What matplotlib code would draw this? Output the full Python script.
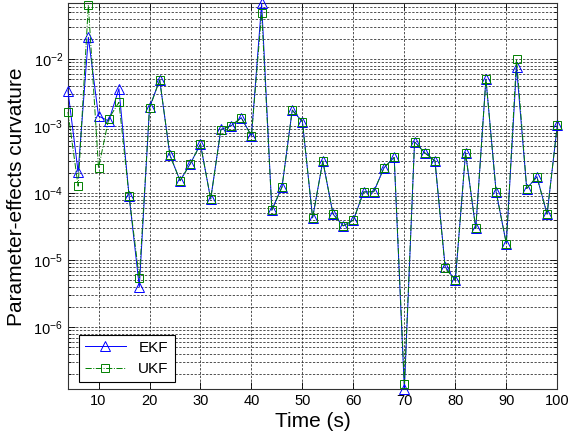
import matplotlib
matplotlib.use("Agg")
import matplotlib.pyplot as plt
from matplotlib.ticker import LogLocator, FixedLocator, NullFormatter

plt.rcParams['font.family'] = ['Liberation Sans', 'DejaVu Sans']
plt.rcParams['mathtext.default'] = 'regular'

# time stamps (s)
t = [4, 6, 8, 10, 12, 14, 16, 18, 20, 22, 24, 26, 28, 30, 32, 34, 36,
     38, 40, 42, 44, 46, 48, 50, 52, 54, 56, 58, 60, 62, 64, 66, 68, 70,
     72, 74, 76, 78, 80, 82, 84, 86, 88, 90, 92, 94, 96, 98, 100]

# parameter-effects curvature, EKF
ekf = [3.36e-3, 2.06e-4, 2.11e-2, 1.41e-3, 1.19e-3, 3.61e-3, 9.0e-5,
       3.99e-6, 1.90e-3, 4.86e-3, 3.69e-4, 1.53e-4, 2.74e-4, 5.38e-4,
       8.13e-5, 8.93e-4, 1.01e-3, 1.33e-3, 7.16e-4, 6.78e-2, 5.57e-5,
       1.24e-4, 1.73e-3, 1.16e-3, 4.27e-5, 3.01e-4, 4.87e-5, 3.25e-5,
       3.96e-5, 1.04e-4, 1.05e-4, 2.39e-4, 3.41e-4, 1.18e-7, 5.83e-4,
       3.99e-4, 3.03e-4, 8.0e-6, 5.02e-6, 3.99e-4, 2.97e-5, 5.03e-3,
       1.04e-4, 1.77e-5, 7.67e-3, 1.17e-4, 1.75e-4, 4.87e-5, 1.03e-3]

# parameter-effects curvature, UKF
ukf = [1.62e-3, 1.27e-4, 6.40e-2, 2.36e-4, 1.29e-3, 2.26e-3, 9.0e-5,
       5.33e-6, 1.84e-3, 4.90e-3, 3.69e-4, 1.53e-4, 2.74e-4, 5.38e-4,
       8.13e-5, 8.80e-4, 1.01e-3, 1.33e-3, 7.16e-4, 4.91e-2, 5.57e-5,
       1.24e-4, 1.73e-3, 1.16e-3, 4.27e-5, 3.01e-4, 4.87e-5, 3.25e-5,
       3.96e-5, 1.04e-4, 1.05e-4, 2.39e-4, 3.41e-4, 1.44e-7, 5.83e-4,
       3.99e-4, 3.03e-4, 7.6e-6, 5.02e-6, 3.99e-4, 2.97e-5, 5.03e-3,
       1.04e-4, 1.77e-5, 9.9e-3, 1.17e-4, 1.75e-4, 4.87e-5, 1.03e-3]

x_ticks = [10, 20, 30, 40, 50, 60, 70, 80, 90, 100]

fig = plt.figure(figsize=(5.71, 4.42), dpi=100)
ax = fig.add_axes([0.119, 0.119, 0.857, 0.8735])

ax.semilogy(t, ekf, color='#0000ff', lw=0.7, ls='-', marker='^', ms=6.5,
            mfc='none', mec='#0000ff', mew=0.7, label='EKF', clip_on=False,
            zorder=3)
ax.semilogy(t, ukf, color='#008000', lw=0.7, ls='-.', marker='s', ms=6,
            mfc='none', mec='#008000', mew=0.7, label='UKF', clip_on=False,
            zorder=4)

ax.set_xlim(t[0], t[-1])
ax.set_ylim(min(min(ekf), min(ukf)), max(max(ekf), max(ukf)))

ax.xaxis.set_major_locator(FixedLocator(x_ticks))
ax.yaxis.set_major_locator(LogLocator(base=10, numticks=20))
ax.yaxis.set_minor_locator(LogLocator(base=10, subs=range(2, 10), numticks=20))
ax.yaxis.set_minor_formatter(NullFormatter())

grid_style = dict(color='#222222', linestyle=(0, (3, 2)), linewidth=0.55)
ax.grid(True, which='major', axis='both', **grid_style)
ax.grid(True, which='minor', axis='y', **grid_style)
ax.set_axisbelow(True)

ax.tick_params(which='both', direction='in', top=True, right=True,
               labelsize=10.5, colors='black')
ax.tick_params(which='major', length=5, width=0.6)
ax.tick_params(which='minor', length=2.5, width=0.6)
for s in ax.spines.values():
    s.set_linewidth(0.8)
    s.set_color('#333333')

ax.set_xlabel('Time (s)', fontsize=15, labelpad=3)
ax.set_ylabel('Parameter-effects curvature', fontsize=15, labelpad=5)

leg = ax.legend(loc='lower left', bbox_to_anchor=(0.022, 0.018),
                borderaxespad=0, fontsize=11, handlelength=2.7,
                fancybox=False, edgecolor='black', framealpha=1,
                borderpad=0.4, labelspacing=0.5)
leg.get_frame().set_linewidth(0.8)

fig.savefig('out.png', dpi=100, facecolor='white')
